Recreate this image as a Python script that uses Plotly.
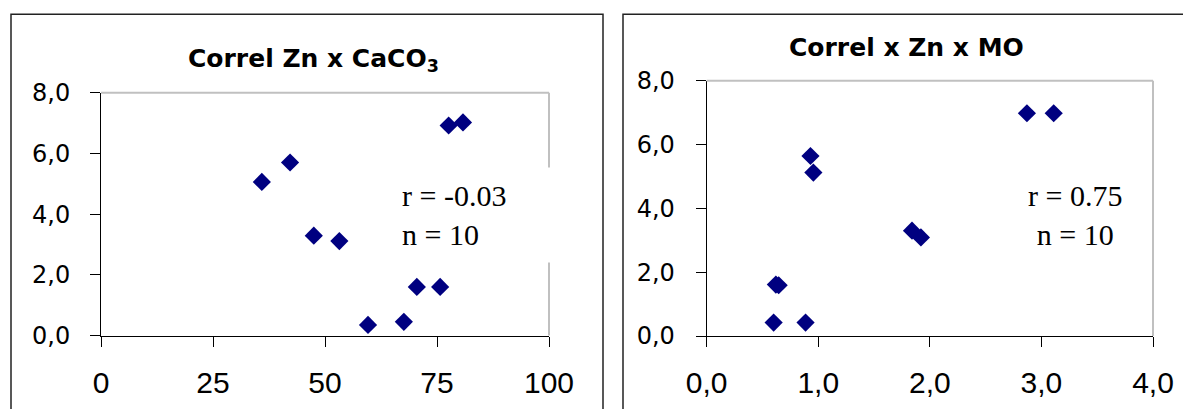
import plotly.graph_objects as go

# ---- data ----
caco3 = [35.9, 42.2, 47.5, 53.2, 59.6, 67.6, 70.5, 75.7, 77.6, 80.8]
zn_caco3 = [5.06, 5.70, 3.29, 3.11, 0.35, 0.45, 1.60, 1.60, 6.92, 7.02]
mo = [0.60, 0.886, 0.62, 0.645, 0.93, 0.956, 1.84, 1.92, 2.87, 3.11]
zn_mo = [0.42, 0.42, 1.61, 1.59, 5.64, 5.12, 3.30, 3.09, 6.98, 6.98]
title_left = "Correl Zn x CaCO<sub>3</sub>"
title_right = "Correl x Zn x MO"
stats_left = "r = -0.03<br>n = 10"
stats_right = "r = 0.75<br>n = 10"
x_left_ticks = [0, 25, 50, 75, 100]
x_right_ticks = [0.0, 1.0, 2.0, 3.0, 4.0]
y_ticks = [0.0, 2.0, 4.0, 6.0, 8.0]

# page body has an 8px margin: size the figure to fit the window
OFF = 8
W, H = 1191 - OFF, 409 - OFF
def px(x): return (x - OFF) / W
def py(y): return 1 - (y - OFF) / H

MARK = dict(symbol="diamond", size=14, color="#000080")
fig = go.Figure()
fig.add_trace(go.Scatter(x=caco3, y=zn_caco3, mode="markers", marker=MARK,
                         xaxis="x", yaxis="y", showlegend=False))
fig.add_trace(go.Scatter(x=mo, y=zn_mo, mode="markers", marker=MARK,
                         xaxis="x2", yaxis="y2", showlegend=False))

xfont = dict(family="Liberation Sans, Arial", size=30, color="black")
yfont = dict(family="DejaVu Sans, Liberation Sans", size=24, color="black")
common = dict(showgrid=False, zeroline=False, showline=True, linecolor="black",
              linewidth=1, ticks="outside", ticklen=10, tickcolor="black",
              tickwidth=1, automargin=False)

fig.update_layout(
    template="none",
    width=W, height=H, margin=dict(l=0, r=0, t=0, b=0, autoexpand=False),
    paper_bgcolor="white", plot_bgcolor="white",
    separators=",.",
    xaxis=dict(domain=[px(101), px(549)], range=[0, 100], tickvals=x_left_ticks,
               tickformat="d", tickfont=xfont, ticklabelstandoff=10,
               anchor="y", **common),
    yaxis=dict(domain=[py(335.5), py(92.7)], range=[0, 8], tickvals=y_ticks,
               tickformat=".1f", tickfont=yfont, ticklabelstandoff=15,
               anchor="x", **common),
    xaxis2=dict(domain=[px(706.7), px(1153)], range=[0, 4], tickvals=x_right_ticks,
                tickformat=".1f", tickfont=xfont, ticklabelstandoff=10,
                anchor="y2", **common),
    yaxis2=dict(domain=[py(336), py(80.7)], range=[0, 8], tickvals=y_ticks,
                tickformat=".1f", tickfont=yfont, ticklabelstandoff=16,
                anchor="x2", **common),
)

GRAY = "#c0c0c0"
shapes = [
    # panel frames
    dict(type="rect", xref="paper", yref="paper", x0=px(11), x1=px(603),
         y0=py(430), y1=py(14.3), line=dict(color="#222", width=1.5), layer="below"),
    dict(type="rect", xref="paper", yref="paper", x0=px(623), x1=px(1210),
         y0=py(430), y1=py(14.3), line=dict(color="#222", width=1.5), layer="below"),
    # gray top/right plot-area borders
    dict(type="line", xref="x domain", yref="y domain", x0=0, x1=1, y0=1, y1=1,
         line=dict(color=GRAY, width=2)),
    dict(type="line", xref="x domain", yref="y domain", x0=1, x1=1, y0=0, y1=1,
         line=dict(color=GRAY, width=2)),
    dict(type="line", xref="x2 domain", yref="y2 domain", x0=0, x1=1, y0=1, y1=1,
         line=dict(color=GRAY, width=2)),
    dict(type="line", xref="x2 domain", yref="y2 domain", x0=1, x1=1, y0=0, y1=1,
         line=dict(color=GRAY, width=2)),
]
fig.update_layout(shapes=shapes)

tfont = dict(family="DejaVu Sans, Liberation Sans", size=25, color="black")
sfont = dict(family="Liberation Serif, Times New Roman", size=30, color="black")
fig.update_layout(annotations=[
    dict(text="<b>" + title_left + "</b>", xref="paper", yref="paper",
         x=px(313), y=py(60), xanchor="center", yanchor="middle",
         showarrow=False, font=tfont),
    dict(text="<b>" + title_right + "</b>", xref="paper", yref="paper",
         x=px(907), y=py(47), xanchor="center", yanchor="middle",
         showarrow=False, font=tfont),
    dict(text=stats_left, xref="paper", yref="paper", x=px(390), y=py(167),
         xanchor="left", yanchor="top", align="left", width=160, borderpad=11,
         bgcolor="white", showarrow=False, font=sfont),
    dict(text=stats_right, xref="paper", yref="paper", x=px(1074.5), y=py(167),
         xanchor="center", yanchor="top", align="center", borderpad=11,
         showarrow=False, font=sfont),
])

fig.write_html("out.html")
